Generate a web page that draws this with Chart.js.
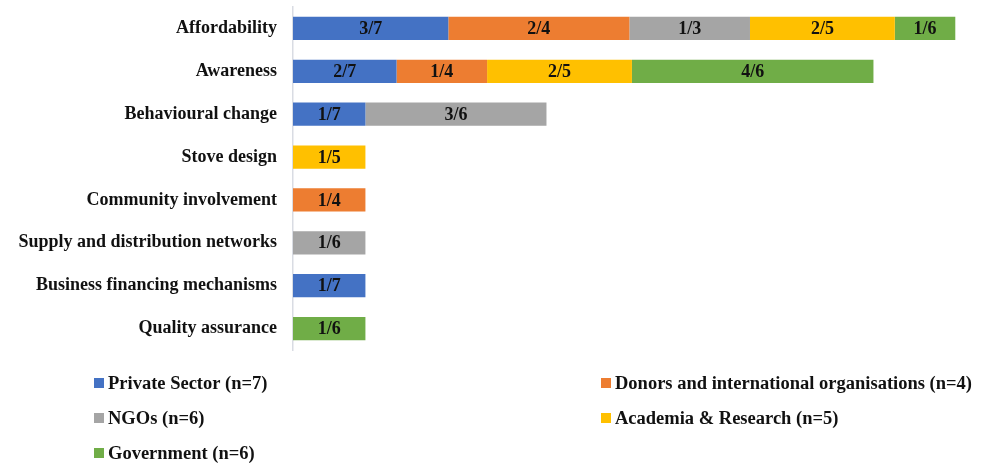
<!DOCTYPE html>
<html lang="en">
  <head>
    <meta charset="UTF-8" />
    <title>Barriers by stakeholder group</title>
    <script src="https://cdn.jsdelivr.net/npm/chart.js"></script>
    <style>
      html, body { margin: 0; padding: 0; background: #fff; }
      #wrap { width: 986px; height: 463px; position: relative; }
    </style>
  </head>
  <body>
    <div id="wrap"><canvas id="chart"></canvas></div>
    <script>
      // categories (top to bottom)
      const categories = [
        "Affordability",
        "Awareness",
        "Behavioural change",
        "Stove design",
        "Community involvement",
        "Supply and distribution networks",
        "Business financing mechanisms",
        "Quality assurance",
      ];

      // series names
      const seriesNames = [
        "Private Sector (n=7)",
        "Donors and international organisations (n=4)",
        "NGOs (n=6)",
        "Academia & Research (n=5)",
        "Government (n=6)",
      ];

      // bar lengths (share, %)
      const privateSector = [42.9, 28.6, 20, null, null, null, 20, null];
      const donors = [50, 25, null, null, 20, null, null, null];
      const ngos = [33.3, null, 50, null, null, 20, null, null];
      const academia = [40, 40, null, 20, null, null, null, null];
      const government = [16.7, 66.7, null, null, null, null, null, 20];

      // text printed in each segment
      const privateLabels = ["3/7", "2/7", "1/7", "", "", "", "1/7", ""];
      const donorLabels = ["2/4", "1/4", "", "", "1/4", "", "", ""];
      const ngoLabels = ["1/3", "", "3/6", "", "", "1/6", "", ""];
      const academiaLabels = ["2/5", "2/5", "", "1/5", "", "", "", ""];
      const governmentLabels = ["1/6", "4/6", "", "", "", "", "", "1/6"];

      const colors = ["#4472C4", "#ED7D31", "#A5A5A5", "#FFC000", "#70AD47"];
      const allValues = [privateSector, donors, ngos, academia, government];
      const allLabels = [privateLabels, donorLabels, ngoLabels, academiaLabels, governmentLabels];

      const FONT = "'Liberation Serif', 'Times New Roman', serif";

      // labels inside the bar segments
      const segmentLabels = {
        id: "segmentLabels",
        afterDatasetsDraw(chart) {
          const ctx = chart.ctx;
          ctx.save();
          ctx.font = "bold 18px " + FONT;
          ctx.fillStyle = "#111";
          ctx.textAlign = "center";
          ctx.textBaseline = "middle";
          chart.data.datasets.forEach((ds, i) => {
            chart.getDatasetMeta(i).data.forEach((bar, j) => {
              const txt = allLabels[i][j];
              if (!txt || ds.data[j] == null) return;
              const cx = (bar.x + bar.base) / 2;
              ctx.fillText(txt, cx, bar.y + 1);
            });
          });
          ctx.restore();
        },
      };

      // two-column legend under the plot
      const gridLegend = {
        id: "gridLegend",
        afterDraw(chart) {
          const ctx = chart.ctx;
          const colX = [94, 601];
          const rowY = [383, 418, 453];
          ctx.save();
          ctx.font = "bold 18.5px " + FONT;
          ctx.textBaseline = "middle";
          ctx.textAlign = "left";
          chart.data.datasets.forEach((ds, i) => {
            const x = colX[i % 2];
            const y = rowY[Math.floor(i / 2)];
            ctx.fillStyle = ds.backgroundColor;
            ctx.fillRect(x, y - 5, 10, 10);
            ctx.fillStyle = "#111";
            ctx.fillText(ds.label, x + 14, y + 1);
          });
          ctx.restore();
        },
      };

      new Chart(document.getElementById("chart"), {
        type: "bar",
        data: {
          labels: categories,
          datasets: seriesNames.map((name, i) => ({
            label: name,
            data: allValues[i],
            backgroundColor: colors[i],
            borderWidth: 0,
            barPercentage: 0.54,
            categoryPercentage: 1,
          })),
        },
        options: {
          indexAxis: "y",
          responsive: true,
          maintainAspectRatio: false,
          animation: false,
          layout: { padding: { top: 7, bottom: 113, right: 5, left: 0 } },
          plugins: {
            legend: { display: false },
            tooltip: { enabled: false },
          },
          scales: {
            x: {
              stacked: true,
              display: false,
              min: 0,
              max: 190,
            },
            y: {
              stacked: true,
              afterFit(scale) {
                scale.width = 293;
              },
              grid: { display: false, drawTicks: true, tickLength: 16, tickColor: "rgba(0,0,0,0)" },
              border: { display: true, color: "#D9DCE3", width: 1.5 },
              ticks: {
                padding: 0,
                color: "#111",
                font: { family: FONT, size: 18, weight: "bold", lineHeight: 0.7 },
              },
            },
          },
        },
        plugins: [segmentLabels, gridLegend],
      });
    </script>
  </body>
</html>
